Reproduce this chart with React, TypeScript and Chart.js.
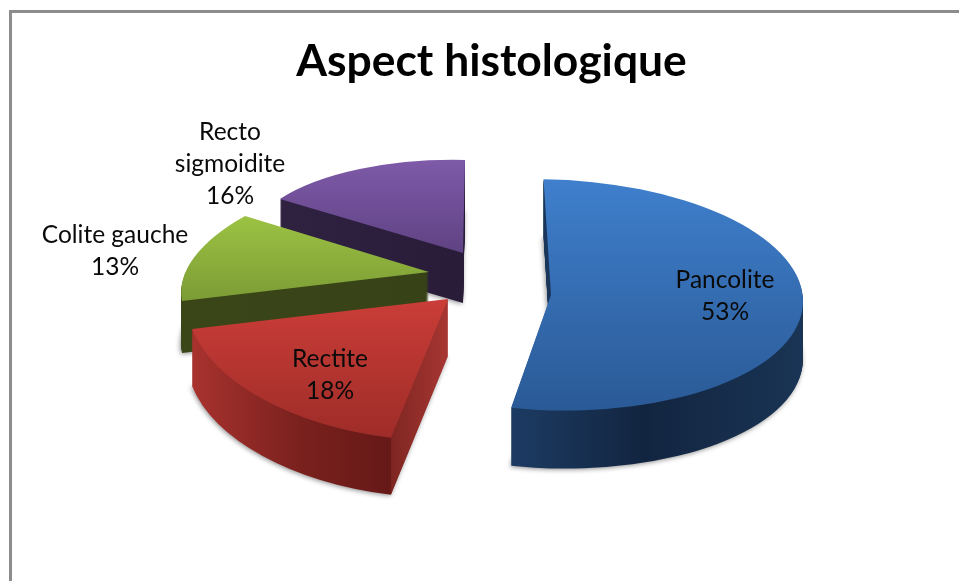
import React, { useEffect, useRef } from "react";
import { Chart, registerables } from "chart.js";

Chart.register(...registerables);

const chartTitle = "Aspect histologique";
const categories: (string | string[])[] = ["Pancolite", "Rectite", "Colite gauche", ["Recto", "sigmoidite"]];
const percentages = [53, 18, 13, 16];
const baseColors = ["#3a76c0", "#b8332f", "#8fb13c", "#6f4f96"];

// Drawn back to front, like the 3D pie.
const paintOrder = [3, 2, 0, 1];

// Per-slice look: pull from the pie centre, flattening matrix, wall depth, label shift.
const sliceLook = [
  { pull: [59.5, 15], m: [0.988, 0.02, 0.012, 0.453], depth: 58, label: [174, 1],
    top: [180, 411, ["#3f7fcc", "#2a5a96"]], wall: [514, 803, [[0, "#1c3b62"], [0.45, "#122540"], [1, "#1a3455"]]] },
  { pull: [-43.5, 19], m: [1.0275, 0.0313, -0.0494, 0.5585], depth: 57, label: [-118, 76],
    top: [299, 438, ["#cb3d38", "#9e2c28"]], wall: [192, 448, [[0, "#a8322e"], [0.42, "#7a211e"], [0.775, "#661917"], [0.78, "#7f2622"], [1, "#a83632"]]] },
  { pull: [-62.5, -8], m: [0.955, -0.002, -0.18, 0.424], depth: 52, label: [-314, -21],
    top: [216, 301, ["#9cc243", "#7c9c35"]], wall: [182, 429, [[0, "#3a4518"], [1, "#374217"]]] },
  { pull: [-28.5, -27], m: [0.855, 0.0257, -0.0228, 0.3643], depth: 50, label: [-233, -89],
    top: [160, 253, ["#7e5aa8", "#5f4283"]], wall: [280, 463, [[0, "#2f2140"], [1, "#291c39"]]] },
];

const labelFont = "24.5px Lato";
const labelLineHeight = 32;

function screenGradient(ctx: any, arc: any, gx: number, gy: number, base: number, s0: number, s1: number) {
  const n = gx * gx + gy * gy;
  return ctx.createLinearGradient(
    arc.x + (gx * (s0 - base)) / n,
    arc.y + (gy * (s0 - base)) / n,
    arc.x + (gx * (s1 - base)) / n,
    arc.y + (gy * (s1 - base)) / n
  );
}

const frame3d = {
  id: "frame3d",
  beforeDraw(chart: any) {
    const { ctx, width, height } = chart;
    ctx.save();
    ctx.fillStyle = "#ffffff";
    ctx.fillRect(0, 0, width, height);
    ctx.fillStyle = "#8c8c8c";
    ctx.fillRect(9, 10, width - 9, 3);
    ctx.fillRect(9, 10, 3, height - 10);
    ctx.restore();
  },
  beforeDatasetsDraw(chart: any) {
    const { ctx } = chart;
    const arcs = chart.getDatasetMeta(0).data;

    const drawArc = (arc: any, look: any, dy: number, fill: any) => {
      const ax = arc.x + look.pull[0];
      const ay = arc.y + look.pull[1] + dy;
      const [a, b, c, d] = look.m;
      ctx.save();
      ctx.translate(ax, ay);
      ctx.transform(a, b, c, d, 0, 0);
      ctx.translate(-arc.x, -arc.y);
      const saved = arc.options;
      arc.options = { ...saved, backgroundColor: fill(ax, ay, a, b, c, d), borderWidth: 0 };
      arc.draw(ctx);
      arc.options = saved;
      ctx.restore();
    };

    for (const i of paintOrder) {
      const arc = arcs[i];
      const look = sliceLook[i];
      const wallFill = (ax: number, _ay: number, a: number, _b: number, c: number) => {
        const g = screenGradient(ctx, arc, a, c, ax, look.wall[0] as number, look.wall[1] as number);
        for (const [p, col] of look.wall[2] as any[]) g.addColorStop(p, col);
        return g;
      };
      ctx.save();
      ctx.shadowColor = "rgba(0,0,0,0.45)";
      ctx.shadowBlur = 5;
      ctx.shadowOffsetX = -1;
      ctx.shadowOffsetY = 1;
      drawArc(arc, look, look.depth, wallFill);
      ctx.restore();
      for (let s = look.depth - 1; s >= 1; s--) drawArc(arc, look, s, wallFill);
      drawArc(arc, look, 0, (_ax: number, ay: number, _a: number, b: number, _c: number, d: number) => {
        const g = screenGradient(ctx, arc, b, d, ay, look.top[0] as number, look.top[1] as number);
        const stops = look.top[2] as string[];
        g.addColorStop(0, stops[0]);
        g.addColorStop(1, stops[1]);
        return g;
      });
    }

    ctx.save();
    ctx.font = labelFont;
    ctx.fillStyle = "#0a0a0a";
    ctx.textAlign = "center";
    ctx.textBaseline = "middle";
    arcs.forEach((arc: any, i: number) => {
      const look = sliceLook[i];
      const name = categories[i];
      const lines = [...(Array.isArray(name) ? name : [name]), `${percentages[i]}%`];
      const x = arc.x + look.pull[0] + look.label[0];
      const y = arc.y + look.pull[1] + look.label[1];
      lines.forEach((t, k) => {
        ctx.fillText(t, x, y + (k - (lines.length - 1) / 2) * labelLineHeight);
      });
    });
    ctx.restore();
    return false;
  },
};

export default function App() {
  const ref = useRef<HTMLCanvasElement | null>(null);
  useEffect(() => {
    if (!ref.current) return;
    const chart = new Chart(ref.current, {
      type: "pie",
      data: {
        labels: categories as any,
        datasets: [{ data: percentages, backgroundColor: baseColors, borderWidth: 0 }],
      },
      options: {
        animation: false,
        responsive: false,
        maintainAspectRatio: false,
        rotation: -1,
        radius: 255,
        layout: { padding: { left: 24, bottom: 110 } },
        plugins: {
          legend: { display: false },
          tooltip: { enabled: false },
          title: {
            display: true,
            text: chartTitle,
            color: "#000000",
            font: { family: "Lato", size: 44.4, weight: "bold", lineHeight: 1.2 },
            padding: { top: 35.5, bottom: 0 },
          },
        },
      },
      plugins: [frame3d as any],
    });
    return () => chart.destroy();
  }, []);
  return (
    <div style={{ position: "absolute", left: 0, top: 0, width: 959, height: 581 }}>
      <canvas ref={ref} width={959} height={581} style={{ display: "block" }} />
    </div>
  );
}
